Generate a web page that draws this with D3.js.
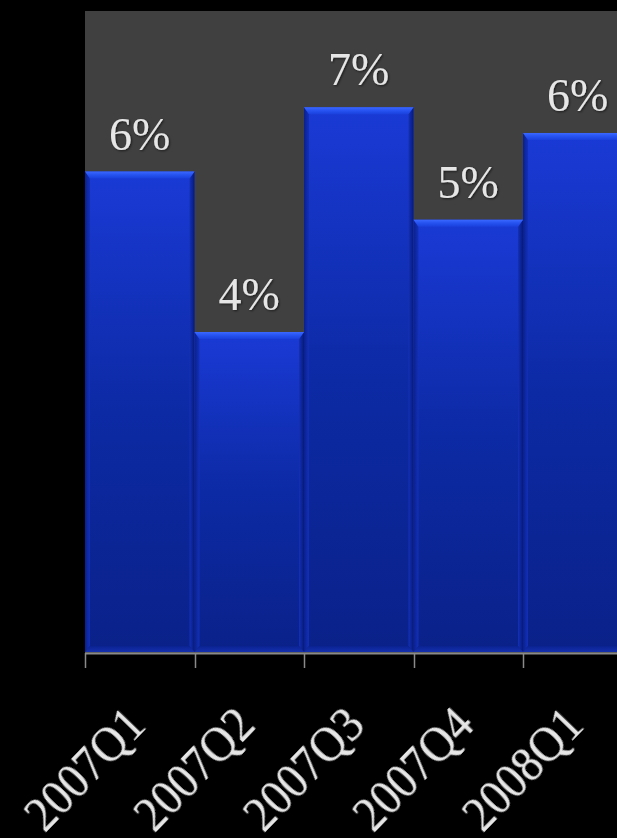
<!DOCTYPE html>
<html>
<head>
<meta charset="utf-8">
<script src="https://cdn.jsdelivr.net/npm/d3@7"></script>
<style>
  html, body { margin: 0; padding: 0; background: #000; }
  svg { display: block; }
</style>
</head>
<body>
<svg id="chart" width="617" height="838"></svg>
<script>
// Quarterly growth rates
const quarters = ["2007Q1", "2007Q2", "2007Q3", "2007Q4", "2008Q1"];
const growth = [0.060, 0.040, 0.068, 0.054, 0.0648];
const yDomain = [0, 0.08];

const plot = { left: 85, top: 11, right: 632.5, bottom: 653 };

const svg = d3.select("#chart");
const defs = svg.append("defs");

const x = d3.scaleBand().domain(quarters).range([plot.left, plot.right]).paddingInner(0).paddingOuter(0);
const y = d3.scaleLinear().domain(yDomain).range([plot.bottom, plot.top]);
const fmt = d3.format(".0%");

// gradients
function linGrad(id, x1, y1, x2, y2, stops) {
  const g = defs.append("linearGradient").attr("id", id)
    .attr("x1", x1).attr("y1", y1).attr("x2", x2).attr("y2", y2);
  stops.forEach(([o, c]) => g.append("stop").attr("offset", o).attr("stop-color", c));
}
linGrad("barFill", 0, 0, 0, 1, [[0, "#1a3ad6"], [0.5, "#0c2aa4"], [1, "#0a2189"]]);
linGrad("bevelTop", 0, 0, 0, 1, [[0, "#3a68ff"], [0.5, "#2552f0"], [1, "#1a40dc"]]);
linGrad("bevelLeft", 0, 0, 1, 0, [[0, "#0a208e"], [1, "#1330b8"]]);
linGrad("bevelRight", 0, 0, 1, 0, [[0, "#1330b8"], [1, "#071a78"]]);
linGrad("bevelBottom", 0, 0, 0, 1, [[0, "#0a2290"], [1, "#1530b0"]]);

const shadow = defs.append("filter").attr("id", "glow").attr("x", "-20%").attr("y", "-20%").attr("width", "140%").attr("height", "140%");
shadow.append("feGaussianBlur").attr("in", "SourceAlpha").attr("stdDeviation", 1.2).attr("result", "b");
shadow.append("feOffset").attr("in", "b").attr("dx", 1).attr("dy", 1).attr("result", "o");
shadow.append("feFlood").attr("flood-color", "#000").attr("flood-opacity", 0.6);
shadow.append("feComposite").attr("in2", "o").attr("operator", "in");
const m = shadow.append("feMerge");
m.append("feMergeNode");
m.append("feMergeNode").attr("in", "SourceGraphic");

// plot background
svg.append("rect")
  .attr("x", plot.left).attr("y", plot.top)
  .attr("width", plot.right - plot.left).attr("height", plot.bottom - plot.top)
  .attr("fill", "#404040");

const data = quarters.map((q, i) => ({ q, v: growth[i] }));
const bw = x.bandwidth();
const bev = 7, side = 5, bot = 6;

const bars = svg.append("g").selectAll("g").data(data).join("g")
  .attr("transform", d => `translate(${x(d.q)},${y(d.v)})`);

bars.append("rect")
  .attr("width", bw).attr("height", d => y(0) - y(d.v) - 1)
  .attr("fill", "url(#barFill)");

// bevel edges
bars.append("path")
  .attr("d", d => { const h = y(0) - y(d.v) - 1; return `M0,0 L${side},${bev} L${side},${h - bot} L0,${h} Z`; })
  .attr("fill", "url(#bevelLeft)");
bars.append("path")
  .attr("d", d => { const h = y(0) - y(d.v) - 1; return `M${bw},0 L${bw - side},${bev} L${bw - side},${h - bot} L${bw},${h} Z`; })
  .attr("fill", "url(#bevelRight)");
bars.append("path")
  .attr("d", d => { const h = y(0) - y(d.v) - 1; return `M0,${h} L${side},${h - bot} L${bw - side},${h - bot} L${bw},${h} Z`; })
  .attr("fill", "url(#bevelBottom)");
bars.append("path")
  .attr("d", `M0,0 L${bw},0 L${bw - side},${bev} L${side},${bev} Z`)
  .attr("fill", "url(#bevelTop)");

// value labels
svg.append("g").selectAll("text").data(data).join("text")
  .attr("x", d => x(d.q) + bw / 2)
  .attr("y", d => y(d.v) - 22)
  .attr("text-anchor", "middle")
  .attr("font-family", "'Liberation Serif', 'Times New Roman', serif")
  .attr("font-size", 46)
  .attr("fill", "#e6e6e6")
  .attr("filter", "url(#glow)")
  .text(d => fmt(d.v));

// x axis
const axis = svg.append("g");
axis.append("line")
  .attr("x1", plot.left).attr("x2", plot.right)
  .attr("y1", plot.bottom + 0.5).attr("y2", plot.bottom + 0.5)
  .attr("stroke", "#8a8a8a").attr("stroke-width", 2);
axis.selectAll("line.tick").data(quarters).join("line")
  .attr("class", "tick")
  .attr("x1", d => Math.round(x(d)) + 0.5).attr("x2", d => Math.round(x(d)) + 0.5)
  .attr("y1", plot.bottom).attr("y2", plot.bottom + 15)
  .attr("stroke", "#8a8a8a").attr("stroke-width", 1.5);
axis.selectAll("text").data(quarters).join("text")
  .attr("text-anchor", "end")
  .attr("transform", d => `translate(${x(d) + bw / 2 + 8},${plot.bottom + 74}) rotate(-46) scale(1,1.12)`)
  .attr("font-family", "'Liberation Serif', 'Times New Roman', serif")
  .attr("font-size", 46)
  .attr("fill", "#e6e6e6")
  .attr("filter", "url(#glow)")
  .text(d => d);
</script>
</body>
</html>
